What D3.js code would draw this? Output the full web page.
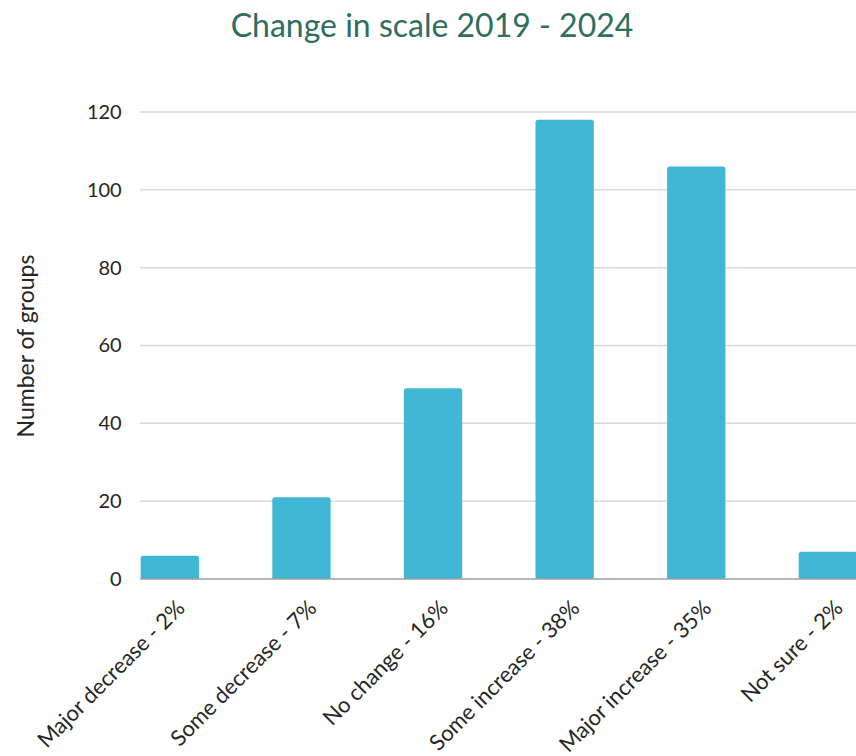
<!DOCTYPE html>
<html>
<head>
<meta charset="utf-8">
<script src="https://cdn.jsdelivr.net/npm/d3@7/dist/d3.min.js"></script>
<style>
  html, body { margin: 0; padding: 0; background: #ffffff; }
  svg { display: block; font-family: Lato, "Open Sans", "DejaVu Sans", sans-serif; }
</style>
</head>
<body>
<svg id="chart" width="856" height="756"></svg>
<script>
// Survey responses: change in scale of groups, 2019 - 2024
const categories = [
  "Major decrease - 2%",
  "Some decrease - 7%",
  "No change - 16%",
  "Some increase - 38%",
  "Major increase - 35%",
  "Not sure - 2%"
];
const groupCounts = [6, 21, 49, 118, 106, 7];
const yTicks = [0, 20, 40, 60, 80, 100, 120];

const chartTitle = "Change in scale 2019 - 2024";
const yAxisTitle = "Number of groups";

const svg = d3.select("#chart");
const plot = { left: 140.7, right: 857, top: 112, bottom: 579 };

const x = d3.scaleBand()
  .domain(categories)
  .range([plot.left, plot.right])
  .paddingInner(0.557)
  .paddingOuter(0);

const y = d3.scaleLinear()
  .domain([0, 120])
  .range([plot.bottom, plot.top]);

// Title
svg.append("text")
  .attr("x", 432)
  .attr("y", 37)
  .attr("text-anchor", "middle")
  .attr("font-size", 32)
  .attr("fill", "#2D6E60")
  .text(chartTitle);

// Gridlines
svg.append("g")
  .selectAll("line")
  .data(yTicks.filter(d => d > 0))
  .join("line")
  .attr("x1", plot.left - 0.7)
  .attr("x2", 856)
  .attr("y1", d => y(d))
  .attr("y2", d => y(d))
  .attr("stroke", "#D9D9D9")
  .attr("stroke-width", 1.5);

// Y axis labels
const yAxis = d3.axisLeft(y).tickValues(yTicks).tickSize(0).tickPadding(19);
const gy = svg.append("g")
  .attr("transform", `translate(${plot.left},0)`)
  .call(yAxis);
gy.select(".domain").remove();
gy.selectAll("text")
  .attr("font-size", 20)
  .attr("font-family", "Lato, 'Open Sans', sans-serif")
  .attr("fill", "#262626");

// Y axis title
svg.append("text")
  .attr("transform", "translate(34,346) rotate(-90)")
  .attr("text-anchor", "middle")
  .attr("font-size", 23)
  .attr("fill", "#262626")
  .text(yAxisTitle);

// Bars with slightly rounded tops
const r = 2.5;
svg.append("g")
  .selectAll("path")
  .data(categories.map((c, i) => ({ c, v: groupCounts[i] })))
  .join("path")
  .attr("fill", "#41B7D6")
  .attr("d", d => {
    const x0 = x(d.c), w = x.bandwidth();
    const y0 = y(d.v), yb = y(0);
    return `M${x0},${yb}V${y0 + r}Q${x0},${y0} ${x0 + r},${y0}` +
           `H${x0 + w - r}Q${x0 + w},${y0} ${x0 + w},${y0 + r}V${yb}Z`;
  });

// Baseline
svg.append("line")
  .attr("x1", plot.left - 0.7)
  .attr("x2", 856)
  .attr("y1", y(0))
  .attr("y2", y(0))
  .attr("stroke", "#A0A0A0")
  .attr("stroke-width", 1.5);

// Rotated category labels
svg.append("g")
  .selectAll("text")
  .data(categories)
  .join("text")
  .attr("transform", d => `translate(${x(d) + x.bandwidth() / 2 + 11},${plot.bottom + 25}) rotate(-45)`)
  .attr("text-anchor", "end")
  .attr("dy", "0.35em")
  .attr("font-size", 22)
  .attr("fill", "#262626")
  .text(d => d);
</script>
</body>
</html>
